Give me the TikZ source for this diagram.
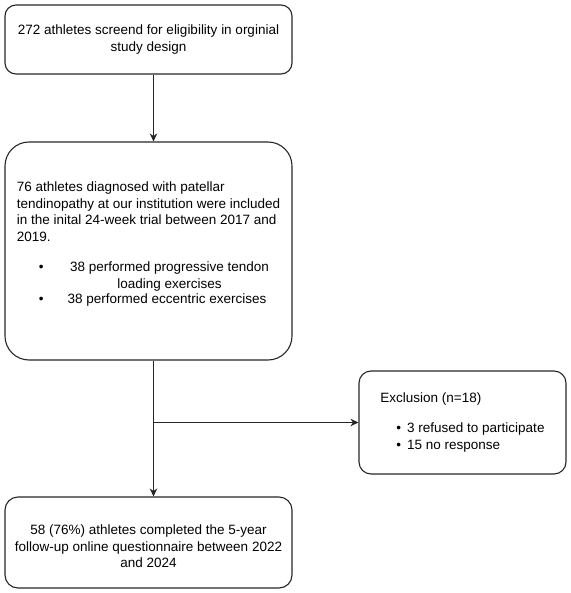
\documentclass[tikz,border=0pt]{standalone}
\usepackage{fontspec}
\setmainfont{Liberation Sans}
\usetikzlibrary{arrows.meta,positioning}
\newcommand{\flowfont}{\fontsize{13.5}{16.5}\selectfont}

\begin{document}
\begin{tikzpicture}[
  x=1pt, y=-1pt,
  box/.style={rectangle, draw=black!85, rounded corners=#1, line width=1.1pt, minimum width=287pt, align=center, inner sep=0pt, font=\flowfont},
  box/.default=11pt,
  arrow/.style={-{Stealth[length=8pt,width=7.5pt]}, line width=0.8pt, color=black!85}
]
\useasboundingbox (0,0) rectangle (570,593);

% Main column of boxes
\node[box, minimum height=69pt] (screen) at (148.5,39.5) {272 athletes screend for eligibility in orginial\\study design};
\node[box=24pt, minimum height=218pt, align=left] (incl) at (148.5,251) {76 athletes diagnosed with patellar\\
tendinopathy at our institution were included\\
in the inital 24-week trial between 2017 and\\
2019.\\[14pt]
\hspace*{22pt}\textbullet\hspace{24pt}\parbox[t]{204pt}{\centering 38 performed progressive tendon\\loading exercises\strut}\\
\hspace*{22pt}\textbullet\hspace{24pt}38 performed eccentric exercises\\[0pt]\mbox{}};
\node[box=13pt, minimum height=91pt] (done) at (148.5,542.5) {\rule{0pt}{18pt}58 (76\%) athletes completed the 5-year\\follow-up online questionnaire between 2022\\and 2024};

% Side box for exclusions
\node[box=12pt, minimum width=207pt, minimum height=103pt, align=left] (excl) at (462.5,422.5) {Exclusion (n=18)\\[14pt]
\hspace*{16pt}\textbullet\hspace{6pt}3 refused to participate\\
\hspace*{16pt}\textbullet\hspace{6pt}15 no response};

% Connectors
\coordinate (inclOut) at ([xshift=5pt]incl.south);
\coordinate (split) at (inclOut |- excl.west);
\draw[arrow] ([xshift=5pt]screen.south) -- ([xshift=5pt]incl.north);
\draw[arrow] (inclOut) -- ([xshift=5pt]done.north);
\draw[arrow] (split) -- (excl.west);

\end{tikzpicture}
\end{document}
